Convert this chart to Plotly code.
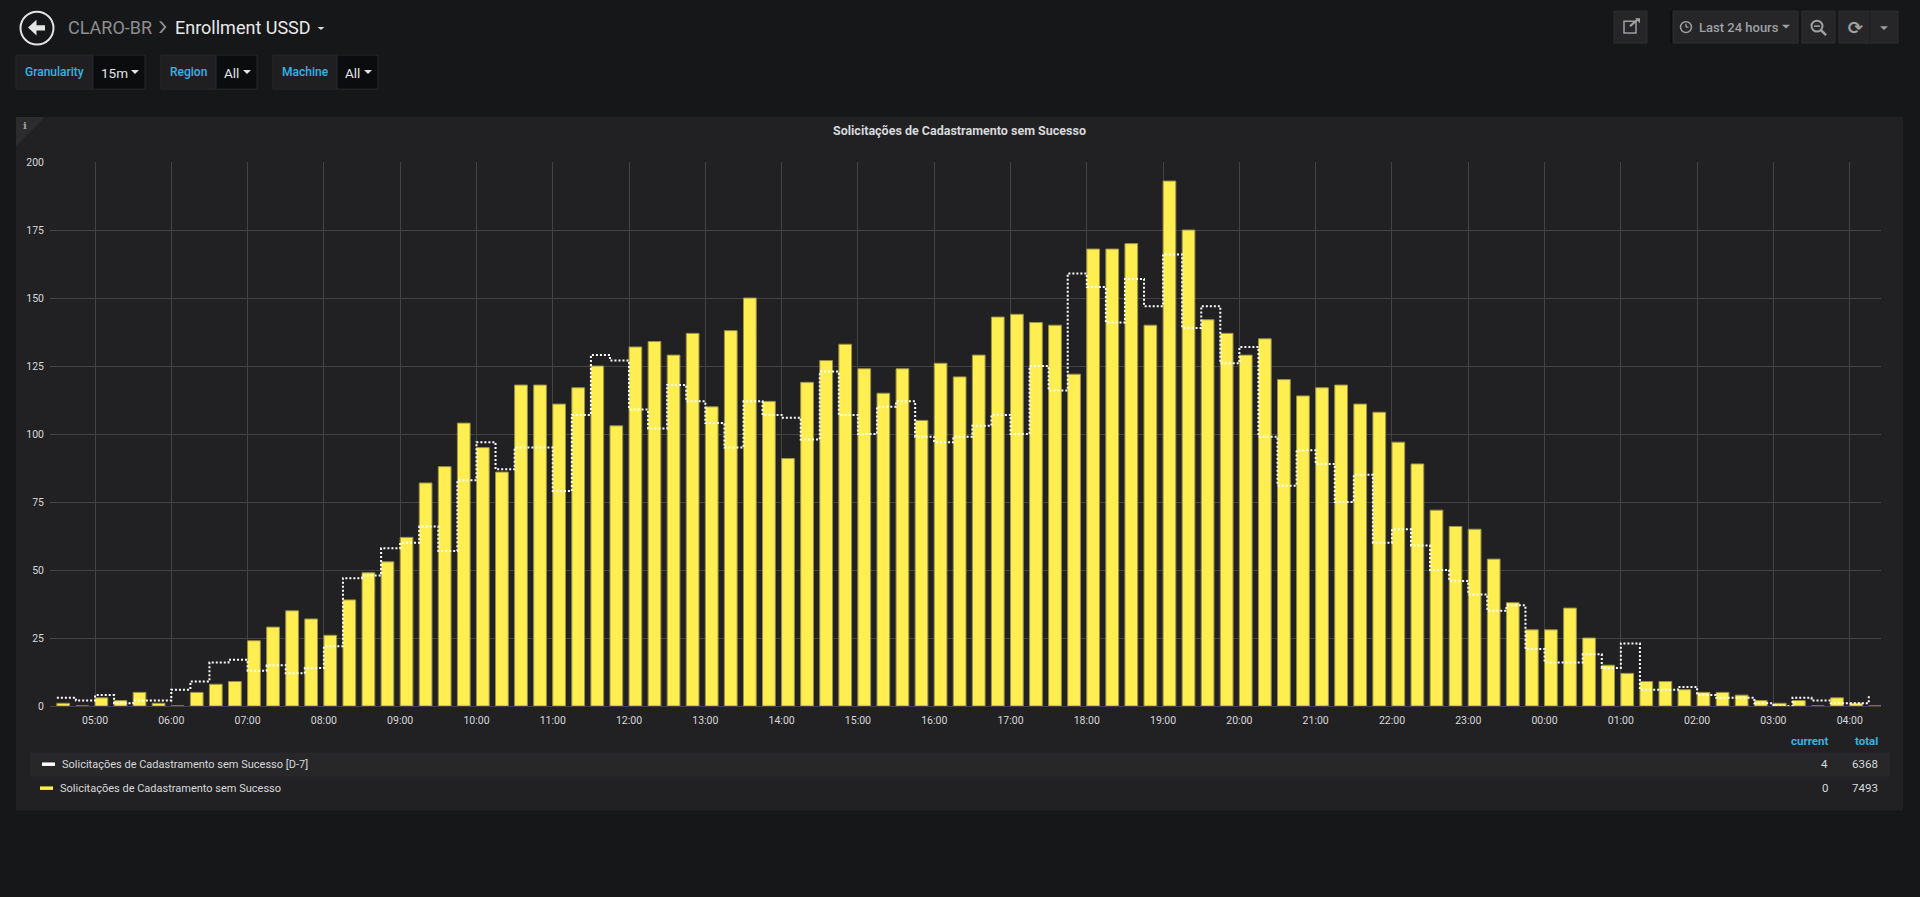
import pandas as pd
import plotly.graph_objects as go

# ---------------- data ----------------
TIMES = [
    "04:30", "04:45",
    "05:00", "05:15", "05:30", "05:45",
    "06:00", "06:15", "06:30", "06:45",
    "07:00", "07:15", "07:30", "07:45",
    "08:00", "08:15", "08:30", "08:45",
    "09:00", "09:15", "09:30", "09:45",
    "10:00", "10:15", "10:30", "10:45",
    "11:00", "11:15", "11:30", "11:45",
    "12:00", "12:15", "12:30", "12:45",
    "13:00", "13:15", "13:30", "13:45",
    "14:00", "14:15", "14:30", "14:45",
    "15:00", "15:15", "15:30", "15:45",
    "16:00", "16:15", "16:30", "16:45",
    "17:00", "17:15", "17:30", "17:45",
    "18:00", "18:15", "18:30", "18:45",
    "19:00", "19:15", "19:30", "19:45",
    "20:00", "20:15", "20:30", "20:45",
    "21:00", "21:15", "21:30", "21:45",
    "22:00", "22:15", "22:30", "22:45",
    "23:00", "23:15", "23:30", "23:45",
    "00:00", "00:15", "00:30", "00:45",
    "01:00", "01:15", "01:30", "01:45",
    "02:00", "02:15", "02:30", "02:45",
    "03:00", "03:15", "03:30", "03:45",
    "04:00", "04:15",
]

CURRENT = [
    1, 0,
    3, 2, 5, 1,
    0, 5, 8, 9,
    24, 29, 35, 32,
    26, 39, 49, 53,
    62, 82, 88, 104,
    95, 86, 118, 118,
    111, 117, 125, 103,
    132, 134, 129, 137,
    110, 138, 150, 112,
    91, 119, 127, 133,
    124, 115, 124, 105,
    126, 121, 129, 143,
    144, 141, 140, 122,
    168, 168, 170, 140,
    193, 175, 142, 137,
    129, 135, 120, 114,
    117, 118, 111, 108,
    97, 89, 72, 66,
    65, 54, 38, 28,
    28, 36, 25, 15,
    12, 9, 9, 6,
    5, 5, 4, 2,
    1, 2, 0, 3,
    1, 0,
]

D7 = [
    3, 2,
    4, 1, 2, 2,
    6, 9, 16, 17,
    13, 15, 12, 14,
    22, 47, 48, 58,
    60, 66, 57, 83,
    97, 87, 95, 95,
    79, 107, 129, 127,
    109, 102, 118, 112,
    104, 95, 112, 107,
    106, 98, 123, 107,
    100, 110, 112, 99,
    97, 99, 103, 107,
    100, 125, 116, 159,
    154, 141, 157, 147,
    166, 139, 147, 126,
    132, 99, 81, 94,
    89, 75, 85, 60,
    65, 59, 50, 46,
    41, 35, 37, 21,
    16, 16, 19, 14,
    23, 6, 6, 7,
    4, 3, 3, 1,
    0, 3, 2, 1,
    1, 4,
]

Y_TICKS = [0, 25, 50, 75, 100, 125, 150, 175, 200]

SERIES_D7 = "Solicitações de Cadastramento sem Sucesso [D-7]"
SERIES_CUR = "Solicitações de Cadastramento sem Sucesso"
LEGEND_HEADERS = ["current", "total"]
LEGEND_D7 = ["4", "6368"]
LEGEND_CUR = ["0", "7493"]

DAY1 = "2018-05-09"
DAY2 = "2018-05-10"

# timestamps (rollover to next day after midnight)
stamps = []
day = DAY1
prev = None
for t in TIMES:
    if prev is not None and t < prev:
        day = DAY2
    stamps.append(pd.Timestamp(f"{day} {t}"))
    prev = t

# ---------------- geometry helpers ----------------
W, H = 1920, 897
ML, MR, MT, MB = 50, 39, 162, 190.5
PW = W - ML - MR
PH = H - MT - MB


def px(x):
    return (x - ML) / PW


def py(y):
    return (H - MB - y) / PH


BG = "#161719"
PANEL = "#212124"
TXT = "#d8d9da"
BLUE = "#33b5e5"
GREY = "#9fa0a2"
YELLOW = "#FFEE52"

fig = go.Figure()

fig.add_trace(go.Bar(
    x=stamps, y=CURRENT, name=SERIES_CUR,
    offset=0, width=600000,
    marker=dict(color=YELLOW, line=dict(color="#9a9240", width=1)),
    hoverinfo="skip",
))
fig.add_trace(go.Scatter(
    x=stamps, y=D7, name=SERIES_D7, mode="lines",
    line=dict(color="#ffffff", width=2, dash="2px,2px", shape="hv"),
    hoverinfo="skip",
))

shapes = []
annots = []


def rect(x0, y0, x1, y1, fill, line=None, lw=0, layer="below"):
    shapes.append(dict(
        type="rect", xref="paper", yref="paper",
        x0=px(x0), x1=px(x1), y0=py(y1), y1=py(y0),
        fillcolor=fill, line=dict(color=line or fill, width=lw), layer=layer,
    ))


def poly(points, fill, layer="above", line=None, lw=0):
    d = "M " + " L ".join(f"{px(a):.6f},{py(b):.6f}" for a, b in points) + " Z"
    shapes.append(dict(type="path", xref="paper", yref="paper", path=d,
                       fillcolor=fill, line=dict(color=line or fill, width=lw), layer=layer))


def seg(x0, y0, x1, y1, color, lw=2):
    shapes.append(dict(type="line", xref="paper", yref="paper",
                       x0=px(x0), x1=px(x1), y0=py(y0), y1=py(y1),
                       line=dict(color=color, width=lw), layer="above"))


def circle(cx, cy, r, color, lw=2, fill="rgba(0,0,0,0)"):
    shapes.append(dict(type="circle", xref="paper", yref="paper",
                       x0=px(cx - r), x1=px(cx + r), y0=py(cy + r), y1=py(cy - r),
                       fillcolor=fill, line=dict(color=color, width=lw), layer="above"))


def text(x, y, s, size=12, color=TXT, xanchor="left", weight="normal", family="Roboto"):
    annots.append(dict(
        x=px(x), y=py(y), xref="paper", yref="paper", text=s, showarrow=False,
        xanchor=xanchor, yanchor="middle",
        font=dict(family=family, size=size, color=color, weight=weight),
    ))


def caret(cx, cy, color, w=4.5, h=4):
    poly([(cx - w, cy - h / 2), (cx + w, cy - h / 2), (cx, cy + h / 2)], color)


# ---------- header ----------
circle(37, 28, 16.5, "#e4e4e4", lw=2)
poly([(28, 27.5), (36.5, 19.5), (36.5, 25), (45, 25), (45, 30.5), (36.5, 30.5), (36.5, 35.5)], "#e4e4e4")
text(65.5, 27, "CLARO-BR", size=18, color="#8e8e8e")
poly([(159, 21), (161.5, 21), (166.5, 27), (161.5, 33), (159, 33), (164, 27)], "#8e8e8e")
text(173, 27, "Enrollment USSD", size=18, color="#e9e9e9")
caret(321, 28.5, "#d8d9da", w=3.5, h=3)

# ---------- variables row ----------
def variable(x0, xmid, x1, label, value):
    rect(x0, 55, xmid, 89, "#1f1f22", line="#29292c", lw=1)
    rect(xmid, 55, x1, 89, "#0b0c0e", line="#29292c", lw=1)
    text((x0 + xmid) / 2, 72, label, size=12, color=BLUE, xanchor="center", weight=500)
    text(xmid + 5.5, 72.5, value, size=13.5, color="#e4e4e4")
    caret(x1 - 10, 72, "#e4e4e4", w=4, h=4)


variable(16, 93, 145, "Granularity", "15m")
variable(161, 216, 257, "Region", "All")
variable(273, 337, 378, "Machine", "All")

# ---------- top-right buttons ----------
BTN = "#262628"
BTNL = "#2f2f32"
rect(1614, 11, 1647, 43, BTN, line=BTNL, lw=1)
rect(1624, 21, 1636, 33, "rgba(0,0,0,0)", line=GREY, lw=1.5, layer="above")
seg(1630, 26, 1638, 19, GREY, lw=2)
poly([(1635, 18), (1640, 18), (1640, 23)], GREY)
rect(1670, 11, 1673, 43, "#0e0e10")
rect(1673, 11, 1798, 43, BTN, line=BTNL, lw=1)
circle(1686, 27, 5.5, GREY, lw=1.5)
seg(1686, 27, 1686, 23.5, GREY, lw=1.3)
seg(1686, 27, 1688.5, 27, GREY, lw=1.3)
text(1697, 27, "Last 24 hours", size=13, color=GREY, weight=500)
caret(1786, 26.5, GREY, w=4, h=4)
rect(1802, 11, 1835, 43, BTN, line=BTNL, lw=1)
circle(1817, 26, 5.5, GREY, lw=2)
seg(1821, 30, 1826, 35, GREY, lw=2.5)
seg(1814, 26, 1820, 26, GREY, lw=1.6)
rect(1839, 11, 1898, 43, BTN, line=BTNL, lw=1)
seg(1870, 11, 1870, 43, "#1e1e20", lw=1)
text(1855, 27, "⟳", size=18, color=GREY, xanchor="center", family="DejaVu Sans", weight="bold")
caret(1884, 28, GREY, w=4, h=4)

# ---------- panel ----------
rect(16, 117, 1903, 811, PANEL)
poly([(16, 117), (45, 117), (16, 146)], "#2c2c2f", layer="below")
text(25, 125, "i", size=10, color=GREY, xanchor="center", family="DejaVu Serif", weight="bold")
text(959.5, 130.5, SERIES_CUR, size=12.5, color=TXT, xanchor="center", weight="bold")

# ---------- legend ----------
rect(30, 753, 1890, 777, "#27272a")
text(1830, 742, LEGEND_HEADERS[0], size=11.5, color=BLUE, xanchor="right", weight="bold")
text(1880, 742, LEGEND_HEADERS[1], size=11.5, color=BLUE, xanchor="right", weight="bold")
rect(42, 763, 55, 766.5, "#ffffff", layer="above")
text(60, 765, SERIES_D7, size=11, color=TXT)
text(1830, 765, LEGEND_D7[0], size=11.5, color=TXT, xanchor="right")
text(1880, 765, LEGEND_D7[1], size=11.5, color=TXT, xanchor="right")
rect(40, 787, 53, 790.5, YELLOW, layer="above")
text(58, 789, SERIES_CUR, size=11, color=TXT)
text(1830, 789, LEGEND_CUR[0], size=11.5, color=TXT, xanchor="right")
text(1880, 789, LEGEND_CUR[1], size=11.5, color=TXT, xanchor="right")

GRID = "#434346"
x_start = pd.Timestamp(f"{DAY1} 04:24:36")
x_end = pd.Timestamp(f"{DAY2} 04:24:36")

fig.update_layout(
    width=W, height=H,
    margin=dict(l=ML, r=MR, t=MT, b=MB, pad=0),
    paper_bgcolor=BG,
    plot_bgcolor="rgba(0,0,0,0)",
    showlegend=False,
    hovermode=False,
    bargap=0,
    shapes=shapes,
    annotations=annots,
    font=dict(family="Roboto", color=TXT),
    xaxis=dict(
        type="date", range=[x_start, x_end],
        tickformat="%H:%M", dtick=3600000, tick0=pd.Timestamp(f"{DAY1} 05:00"),
        showgrid=True, gridcolor=GRID, gridwidth=1,
        zeroline=False, showline=False, ticks="",
        tickfont=dict(family="Roboto", size=10.5, color=TXT),
        ticklabelstandoff=6, fixedrange=True,
    ),
    yaxis=dict(
        range=[0, 200], tickvals=Y_TICKS, ticktext=[str(v) for v in Y_TICKS],
        showgrid=True, gridcolor=GRID, gridwidth=1,
        zeroline=True, zerolinecolor=GRID, zerolinewidth=1,
        showline=False, ticks="",
        tickfont=dict(family="Roboto", size=10.5, color=TXT),
        ticklabelstandoff=5, fixedrange=True,
    ),
)

fig.write_html(
    "out.html",
    config={"displayModeBar": False, "staticPlot": True},
    post_script="document.body.style.margin='0';document.body.style.background='#161719';document.body.style.overflow='hidden';",
)
